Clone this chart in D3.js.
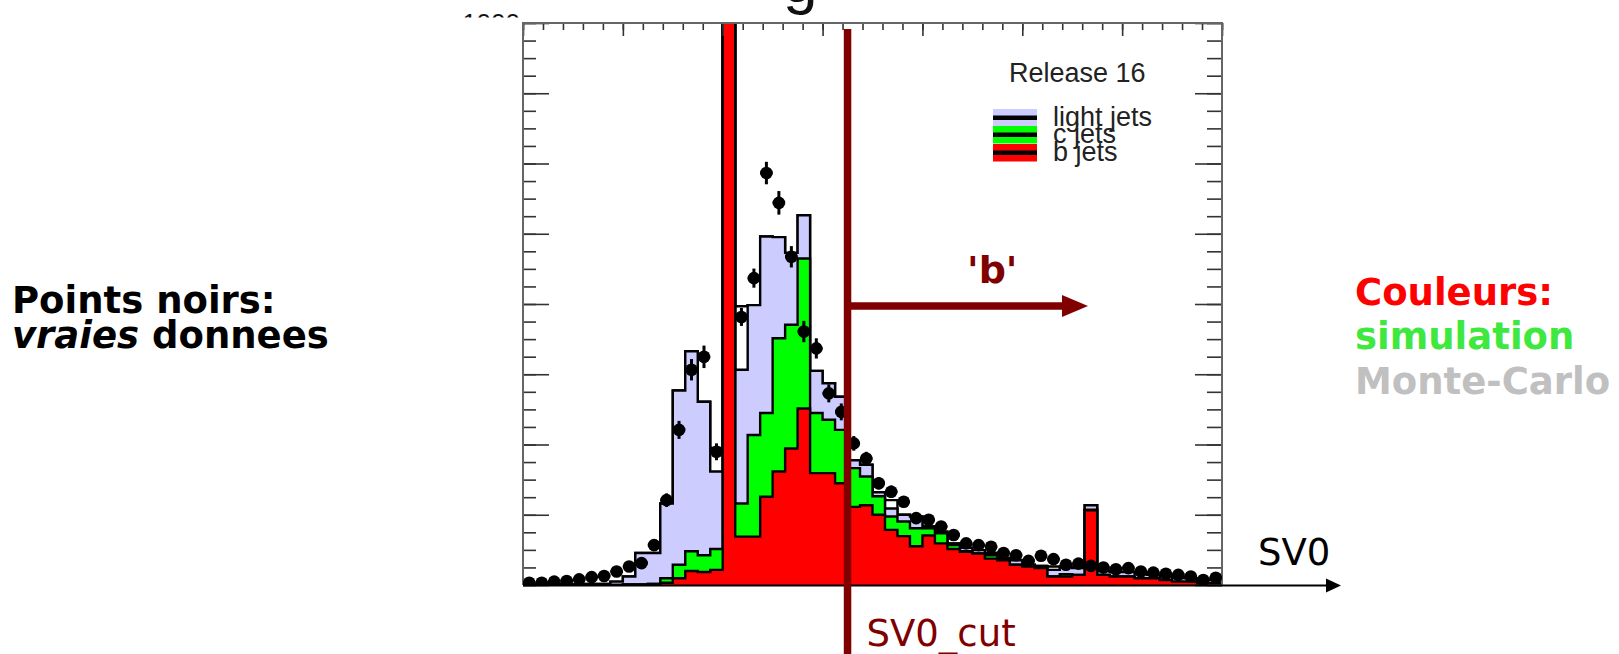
<!DOCTYPE html>
<html>
<head>
<meta charset="utf-8">
<script src="https://cdn.jsdelivr.net/npm/d3@7"></script>
<style>
  html, body { margin: 0; padding: 0; background: #fff; }
  svg { display: block; }
</style>
</head>
<body>
<div id="chart"></div>
<script>
'use strict';

// histogram binning (SV0 axis)
const binLow = -20;
const binWidth = 1.25;
const nBins = 56;

// data points (black dots) and their errors
const dataCounts = [4,4,6,7,10,14,16,24,33,39, 71,151,276,383,406,237,null,477,546,733,
  680,584,451,421,341,308,252,225,181,166, 148,119,116,104,89,74,71,68,57,53,
  43,52,46,36,38,34,31,28,30,24, 22,20,18,15,9,13];
const dataErrors = [2,2,2,3,3,4,4,5,6,6, 8,12,16,19,20,15,0,16,17,20,
  21,19,19,18,16,15,13,12,11,11, 10,9,9,9,8,7,7,7,6,6,
  6,6,6,5,5,5,5,5,5,4, 4,4,4,4,3,3];

// Monte-Carlo stack components
const bJets = [0,0,0,0,0,0,0,0, 1,1,2,4,12,25,23,27, 1200,86,86,157,202,243,314,199,
  199,181,139,142,125,98,87,69, 88,74,64,59,56,47,44,36, 33,30,15,15,18,133,18,15,
  15,12,12,9,6,6,3,3];
const cJets = [0,0,0,0,0,0,0,0, 0,0,0,8,24,35,30,37, 0,59,181,149,237,220,267,107,
  95,95,69,51,33,24,26,32, 13,18,7,1,0,6,0,0, 0,0,0,4,0,1,0,0,
  0,0,0,0,0,0,0,0];
const lightJets = [1,1,1,1,1,2,2,6, 14,56,55,133,310,356,273,138, 0,238,231,314,180,128,77,75,
  65,59,14,21,7,14,12,21, 3,3,3,6,6,4,4,8, 3,4,12,13,12,8,7,8,
  8,8,6,7,7,6,6,6];
const otherMC = [0,0,0,0,0,0,0,0, 0,0,0,0,0,0,0,42, 0,113,0,0,0,0,0,0,
  0,0,0,0,0,15,0,0, 0,0,0,0,0,0,0,0, 0,0,6,0,0,0,0,0,
  0,0,0,0,0,0,0,0];

const stackKeys = ['b', 'c', 'light', 'other'];
const stackColors = { b: '#ff0000', c: '#00ff00', light: '#ccccff', other: '#ffffff' };
const legendLabels = ['light jets', 'c jets', 'b jets'];
const legendColors = ['#ccccff', '#00ff00', '#ff0000'];

const xTicksMajor = d3.range(-20, 51, 10);
const xTicksMinor = d3.range(-20, 51, 2);
const yTicksMajor = d3.range(0, 1001, 125);
const yTicksMinor = d3.range(0, 1001, 31.25);
const sv0Cut = 12.5;

const width = 1619;
const height = 654;
const frame = { left: 523, right: 1222, top: 23, bottom: 585 };

const svg = d3.select('#chart').append('svg')
  .attr('width', width)
  .attr('height', height);

const x = d3.scaleLinear().domain([-20, 50]).range([frame.left, frame.right]);
const y = d3.scaleLinear().domain([0, 1000]).range([frame.bottom, frame.top]);

const edges = d3.range(nBins + 1).map(i => binLow + i * binWidth);

const defs = svg.append('defs');
defs.append('clipPath').attr('id', 'frameClip')
  .append('rect')
  .attr('x', frame.left).attr('y', frame.top)
  .attr('width', frame.right - frame.left).attr('height', frame.bottom - frame.top);
defs.append('clipPath').attr('id', 'titleClip')
  .append('rect')
  .attr('x', 770).attr('y', 0)
  .attr('width', 60).attr('height', 16);

// stacked histograms
const rows = edges.slice(0, -1).map((e, i) => ({
  b: bJets[i], c: cJets[i], light: lightJets[i], other: otherMC[i]
}));
const series = d3.stack().keys(stackKeys)(rows);

function stepPoints(vals) {
  const pts = [[edges[0], 0]];
  vals.forEach((v, i) => pts.push([edges[i], v]));
  pts.push([edges[nBins], vals[nBins - 1]]);
  pts.push([edges[nBins], 0]);
  return pts;
}

const area = d3.area()
  .x(d => x(d[0]))
  .y0(y(0))
  .y1(d => y(d[1]))
  .curve(d3.curveStepAfter);
const outline = d3.line()
  .x(d => x(d[0]))
  .y(d => y(d[1]))
  .curve(d3.curveStepAfter);

const histG = svg.append('g').attr('clip-path', 'url(#frameClip)');
series.slice().reverse().forEach(s => {
  const pts = stepPoints(s.map(d => d[1]));
  histG.append('path')
    .attr('d', area(pts))
    .attr('fill', stackColors[s.key]);
  histG.append('path')
    .attr('d', outline(pts))
    .attr('fill', 'none')
    .attr('stroke', '#000')
    .attr('stroke-width', 2.4);
});

// axes: ticks inside the frame
const axisG = svg.append('g').attr('color', '#333');
function tickAxis(axis, transform) {
  const g = axisG.append('g').attr('transform', transform).call(axis);
  g.select('.domain').remove();
  g.selectAll('line').attr('stroke-width', 1.6);
  return g;
}
tickAxis(d3.axisTop(x).tickValues(xTicksMinor).tickSize(-7).tickFormat(''), `translate(0,${frame.top})`);
tickAxis(d3.axisTop(x).tickValues(xTicksMajor).tickSize(-13).tickFormat(''), `translate(0,${frame.top})`);
tickAxis(d3.axisRight(y).tickValues(yTicksMinor).tickSize(-15).tickFormat(''), `translate(${frame.right},0)`);
tickAxis(d3.axisRight(y).tickValues(yTicksMajor).tickSize(-27).tickFormat(''), `translate(${frame.right},0)`);
tickAxis(d3.axisLeft(y).tickValues(yTicksMinor).tickSize(-13).tickFormat(''), `translate(${frame.left},0)`);
const leftMajor = tickAxis(d3.axisLeft(y).tickValues(yTicksMajor).tickSize(-26).tickPadding(3).tickFormat(d3.format('d')),
  `translate(${frame.left},0)`);
leftMajor.selectAll('text')
  .attr('font-family', 'Liberation Sans, Arial, sans-serif')
  .attr('font-size', 26)
  .attr('fill', '#111');

// frame
svg.append('path')
  .attr('d', `M${frame.left},${frame.bottom}V${frame.top}H${frame.right}V${frame.bottom}`)
  .attr('fill', 'none')
  .attr('stroke', '#666')
  .attr('stroke-width', 2);

// white cover over the y labels (cropped picture)
svg.append('rect')
  .attr('x', 430).attr('y', 17.5)
  .attr('width', frame.left - 1.5 - 430).attr('height', height)
  .attr('rx', 3)
  .attr('fill', '#fff');

// data points with errors
const pointG = svg.append('g').attr('clip-path', 'url(#frameClip)');
const pts = dataCounts.map((v, i) => ({ v, e: dataErrors[i], i })).filter(d => d.v !== null);
pointG.selectAll('line.ex').data(pts).enter().append('line')
  .attr('x1', d => x(edges[d.i])).attr('x2', d => x(edges[d.i + 1]))
  .attr('y1', d => y(d.v)).attr('y2', d => y(d.v))
  .attr('stroke', '#000').attr('stroke-width', 3);
pointG.selectAll('line.ey').data(pts).enter().append('line')
  .attr('x1', d => x(edges[d.i] + binWidth / 2)).attr('x2', d => x(edges[d.i] + binWidth / 2))
  .attr('y1', d => y(d.v - d.e)).attr('y2', d => y(d.v + d.e))
  .attr('stroke', '#000').attr('stroke-width', 3);
pointG.selectAll('circle').data(pts).enter().append('circle')
  .attr('cx', d => x(edges[d.i] + binWidth / 2))
  .attr('cy', d => y(d.v))
  .attr('r', 6.3)
  .attr('fill', '#000');

// x axis arrow (SV0)
svg.append('line')
  .attr('x1', frame.left).attr('x2', 1330)
  .attr('y1', frame.bottom + 0.5).attr('y2', frame.bottom + 0.5)
  .attr('stroke', '#000').attr('stroke-width', 2);
svg.append('path')
  .attr('d', `M1326,${frame.bottom - 6.5}L1341,${frame.bottom + 0.5}L1326,${frame.bottom + 7.5}Z`)
  .attr('fill', '#000');
svg.append('text')
  .attr('x', 1258).attr('y', 565)
  .attr('font-family', 'DejaVu Sans, sans-serif')
  .attr('font-size', 37)
  .attr('fill', '#000')
  .text('SV0');

// legend
svg.append('text')
  .attr('x', 1009).attr('y', 82)
  .attr('font-family', 'Liberation Sans, Arial, sans-serif')
  .attr('font-size', 27)
  .attr('fill', '#222')
  .text('Release 16');
const legendTop = [109, 126, 144];
legendLabels.forEach((label, i) => {
  const g = svg.append('g');
  g.append('rect')
    .attr('x', 993).attr('y', legendTop[i])
    .attr('width', 44).attr('height', 17.5)
    .attr('fill', legendColors[i]);
  g.append('rect')
    .attr('x', 993).attr('y', legendTop[i] + 6.5)
    .attr('width', 44).attr('height', 4.5)
    .attr('fill', '#000');
  g.append('text')
    .attr('x', 1053).attr('y', legendTop[i] + 16.5)
    .attr('font-family', 'Liberation Sans, Arial, sans-serif')
    .attr('font-size', 27)
    .attr('fill', '#222')
    .text(label);
});

// title fragment cut by the top of the picture: only the tail of the "g" shows
svg.append('g').attr('clip-path', 'url(#titleClip)')
  .append('text')
  .attr('x', 783).attr('y', 2)
  .attr('font-family', 'Liberation Sans, Arial, sans-serif')
  .attr('font-size', 62)
  .attr('fill', '#111')
  .text('g');

// SV0 cut and the 'b' arrow
const cutX = x(sv0Cut);
const dark = '#800000';
svg.append('line')
  .attr('x1', cutX).attr('x2', cutX)
  .attr('y1', 29).attr('y2', height)
  .attr('stroke', dark).attr('stroke-width', 7.5);
svg.append('line')
  .attr('x1', cutX).attr('x2', 1064)
  .attr('y1', 306).attr('y2', 306)
  .attr('stroke', dark).attr('stroke-width', 7.5);
svg.append('path')
  .attr('d', 'M1062,295L1088,306L1062,317Z')
  .attr('fill', dark);
svg.append('text')
  .attr('x', 967).attr('y', 283)
  .attr('font-family', 'DejaVu Sans, sans-serif')
  .attr('font-weight', 'bold')
  .attr('font-size', 38)
  .attr('fill', dark)
  .text("'b'");
svg.append('text')
  .attr('x', cutX + 19).attr('y', 646)
  .attr('font-family', 'DejaVu Sans, sans-serif')
  .attr('font-size', 37)
  .attr('fill', dark)
  .text('SV0_cut');

// side notes
const note = svg.append('g')
  .attr('font-family', 'DejaVu Sans, sans-serif')
  .attr('font-weight', 'bold')
  .attr('font-size', 37);
note.append('text').attr('x', 12).attr('y', 313).attr('fill', '#000').text('Points noirs:');
const line2 = note.append('text').attr('x', 12).attr('y', 348).attr('fill', '#000');
line2.append('tspan').attr('font-style', 'italic').text('vraies');
line2.append('tspan').text(' donnees');
note.append('text').attr('x', 1355).attr('y', 305).attr('fill', '#ff0000').text('Couleurs:');
note.append('text').attr('x', 1355).attr('y', 349).attr('fill', '#3ee83e').text('simulation');
note.append('text').attr('x', 1355).attr('y', 394).attr('fill', '#c0c0c0').text('Monte-Carlo');
</script>
</body>
</html>
